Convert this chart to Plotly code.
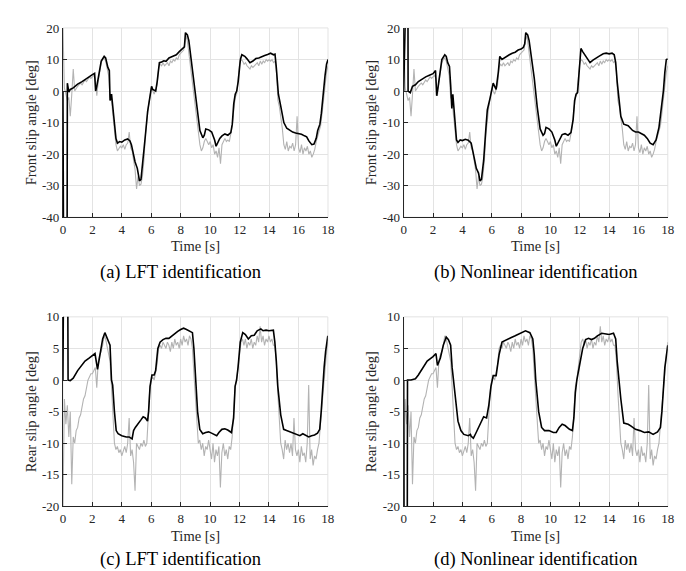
import plotly.graph_objects as go

# ---------------- data ----------------
# measured signals sampled every 0.1 s from 0 to 18 s
time_grid = [i / 10 for i in range(181)]

gray_front = [
    20, 1, -1, -3, -2, -8, -1, 7, 0, 1,
    1.5, 2, 2.5, 2, 3, 3.5, 3, 4, 4.5, 4,
    4.5, 5, 4, -1.5, 3, 7, 9, 10, 10.5, 9.5,
    7.5, 5, -2, -3, -8, -13, -17, -19, -18, -17.5,
    -18, -17, -18.5, -17, -16.5, -13, -18, -19, -22, -25,
    -31, -27, -30, -29.5, -27, -22, -14, -8, -5, -2,
    1, 0, -1, 0.5, 2, 7.5, 8.5, 8, 9, 8,
    8.5, 9, 8, 9.5, 9, 10, 9.5, 10.5, 10, 11.5,
    12, 12.5, 13, 16, 17.5, 14, 10, 6, 2, -3,
    -6, -10, -14, -17, -19, -18, -16, -15, -16, -17,
    -16, -18, -17, -20, -19, -21, -18, -23, -17, -16,
    -15, -16, -15.5, -16, -14, -11, -6, -2, -1, 3,
    9, 10, 9.5, 8.5, 9, 8, 7.5, 7, 8, 7.5,
    8, 8.5, 9, 8, 9.5, 8.5, 9.5, 9, 10, 9.5,
    10, 9.5, 10, 9, 9.5, 6, -3, -5, -8, -12,
    -17, -18.5, -16, -19, -17.5, -18, -16.5, -19, -17, -8,
    -18, -19.5, -17, -20, -18, -19, -17.5, -20, -19, -21,
    -20, -18.5, -16, -14, -12, -11, -7, -2, 3, 6,
    8,
]

gray_rear = [
    -20, -3, -7, -4, -9, -5, -16.5, -9, -10, -8,
    -7.5, -6, -5.5, -4, -3, -2.5, -1, 0, 0.5, 1,
    1, 1.5, 2, -1.2, 3, 4, 4.5, 5.5, 7, 6.5,
    5.5, 4.5, 3, -1, -6, -10, -11, -10.5, -11.5, -11,
    -12, -11, -10.5, -11.5, -10, -6, -12, -11, -13, -17.5,
    -10, -10.5, -11, -10, -10.5, -9.5, -10.5, -10, -5, -1.5,
    0, 0.5, 0, 1, 2.5, 5, 5.5, 5, 6, 5.5,
    5, 6, 5.5, 4.5, 6, 5, 6.5, 5.5, 6, 5,
    6.5, 5.5, 7, 6, 6.5, 5.5, 7, 6.5, 5, 1,
    -3, -8, -10, -9.5, -11, -10, -12, -10.5, -11, -9.5,
    -11, -12.5, -10, -13, -11, -12, -10.5, -17, -11.5, -10,
    -12, -11, -12.5, -10.5, -11, -9, -5, -1, 0, 2,
    3.5, 6, 6.5, 5.5, 6.5, 5, 6, 5.5, 6.5, 5,
    6, 5.5, 7, 6, 8.5, 6, 7, 5.5, 6.5, 6,
    7, 6, 6.5, 5.5, 5.5, 3, -2, -6, -10, -11,
    -12.5, -9.5, -11, -10, -11.5, -10, -12, -6, -11, -12,
    -11, -13, -10.5, -12, -11.5, -13, -10, -0.8, -12.5, -11,
    -13.5, -12, -12.5, -11, -10, -7, -4, -1, 2, 4,
    6,
]

# model outputs as (time [s], angle [deg]) pairs
lft_front = [
    (0, 0), (0.05, -60), (0.28, -60), (0.3, 2.5), (0.4, -0.3), (0.5, 0.5), (0.7, 1),
    (1.0, 2.2), (1.3, 3), (1.5, 3.7), (1.8, 4.6), (2.0, 5.2), (2.15, 5.6), (2.22, 0),
    (2.3, 1.5), (2.45, 5), (2.6, 9.5), (2.8, 11), (2.9, 10.5), (3.05, 7.5), (3.15, 6.5),
    (3.2, -3), (3.3, -1), (3.45, -8), (3.6, -15), (3.7, -16.5), (3.85, -16), (4.0, -16.2),
    (4.2, -15.5), (4.4, -15.2), (4.55, -15.8), (4.65, -17), (4.8, -21), (4.9, -22.5),
    (5.05, -24.5), (5.2, -28.5), (5.3, -28), (5.45, -22), (5.6, -14), (5.75, -6.5),
    (5.9, -2), (6.02, 1.5), (6.1, 0.5), (6.3, 0), (6.4, 3), (6.55, 9), (6.7, 9.2),
    (6.85, 9.6), (7.0, 9.4), (7.2, 10.5), (7.35, 10.8), (7.5, 11.2), (7.7, 11.5),
    (7.9, 12.5), (8.1, 13.2), (8.25, 14), (8.32, 18.5), (8.45, 17.8), (8.55, 16),
    (8.7, 10), (8.85, 4), (9.0, -1), (9.15, -7), (9.3, -12.5), (9.5, -14.8), (9.6, -14),
    (9.7, -12), (9.9, -12.3), (10.1, -13), (10.3, -15.5), (10.4, -17.5), (10.5, -16.5),
    (10.65, -15), (10.8, -14.2), (11.0, -13.6), (11.2, -14), (11.4, -13.2), (11.5, -10.5),
    (11.6, -4), (11.7, -1), (11.8, 0), (11.9, 3), (12.05, 10), (12.15, 11.5), (12.35, 11),
    (12.5, 10.2), (12.7, 9), (12.9, 9.5), (13.1, 10.3), (13.3, 10.5), (13.5, 11),
    (13.7, 11.3), (13.9, 11.6), (14.1, 12), (14.3, 11.5), (14.4, 11.7), (14.48, 8),
    (14.55, 2), (14.63, -1), (14.8, -5), (15.0, -10), (15.2, -11.8), (15.4, -12.5),
    (15.6, -13), (15.8, -13.3), (16.0, -13.5), (16.2, -13.7), (16.4, -14.2), (16.55, -14.5),
    (16.7, -15.8), (16.9, -17), (17.05, -16.8), (17.2, -15), (17.3, -12.5), (17.45, -10.5),
    (17.55, -7), (17.68, 0), (17.8, 5), (17.9, 8.5), (18.0, 10),
]

nonlin_front = [
    (0, 0), (0.05, 60), (0.28, 60), (0.3, 0), (0.45, -0.5), (0.6, 1.5), (0.8, 2),
    (1.0, 3), (1.25, 3.8), (1.5, 4.5), (1.75, 5), (2.0, 5.5), (2.17, 6.5), (2.25, -1.5),
    (2.35, 1.5), (2.45, 5), (2.6, 10), (2.8, 11.5), (2.9, 11), (3.0, 9), (3.12, 7.8),
    (3.2, 2), (3.28, -5.5), (3.35, -1), (3.5, -10), (3.6, -15.5), (3.7, -16.3),
    (3.85, -15.5), (4.0, -15.7), (4.2, -15.3), (4.4, -15.6), (4.6, -16.5), (4.8, -21),
    (4.95, -24.5), (5.1, -26), (5.2, -28.5), (5.3, -28), (5.45, -22), (5.6, -12),
    (5.7, -6), (5.9, -2), (6.05, 1), (6.1, 2.5), (6.2, 1.5), (6.3, 0.5), (6.45, 6),
    (6.55, 11), (6.7, 10), (6.85, 10.5), (7.0, 11), (7.2, 11.5), (7.4, 12), (7.6, 12.3),
    (7.8, 13), (8.0, 13.3), (8.15, 13.8), (8.25, 15), (8.32, 18.5), (8.45, 17.8),
    (8.55, 16), (8.7, 11), (8.9, 4), (9.1, -5), (9.3, -12), (9.5, -14), (9.6, -13.5),
    (9.7, -11.5), (9.9, -12), (10.1, -13), (10.3, -15.5), (10.4, -17.5), (10.5, -16.5),
    (10.65, -15), (10.8, -13.8), (11.0, -13.5), (11.2, -14), (11.4, -13.2), (11.55, -9),
    (11.65, -3), (11.75, -1), (11.85, -0.5), (12.0, 10), (12.08, 13.5), (12.2, 12.5),
    (12.4, 11), (12.55, 10), (12.7, 9), (12.9, 9.8), (13.1, 10.5), (13.3, 11),
    (13.6, 11.8), (13.8, 12), (14.0, 11.8), (14.2, 12), (14.35, 11.5), (14.45, 9),
    (14.55, 3), (14.65, -1), (14.8, -8), (15.0, -10.5), (15.3, -11), (15.6, -12.5),
    (15.8, -13), (16.0, -13), (16.2, -13.5), (16.4, -14), (16.6, -15), (16.8, -16.5),
    (17.0, -17), (17.2, -15.5), (17.4, -11.5), (17.55, -6), (17.7, 0), (17.8, 6),
    (17.9, 10), (18.0, 10.2),
]

lft_rear = [
    (0, 0), (0.05, 20), (0.32, 20), (0.35, 0), (0.5, -0.1), (0.7, 0.3), (1.0, 1.5),
    (1.3, 2.5), (1.5, 3), (1.8, 3.5), (2.0, 3.8), (2.18, 4.2), (2.35, 1.7), (2.5, 3.5),
    (2.7, 6.5), (2.85, 7.5), (3.0, 6.5), (3.2, 5.5), (3.3, 0), (3.38, -0.8), (3.5, -5),
    (3.62, -8), (3.75, -8.5), (4.0, -8.8), (4.3, -9), (4.5, -9), (4.7, -9.3), (4.8, -8),
    (4.92, -7.5), (5.1, -7), (5.3, -6.3), (5.45, -5.8), (5.6, -6), (5.75, -6.5),
    (5.82, -5), (5.92, -1), (6.05, 0.8), (6.2, 0.8), (6.3, 1.5), (6.45, 5), (6.6, 6),
    (6.8, 6.4), (7.0, 6.6), (7.2, 6.6), (7.4, 7), (7.6, 7.3), (7.8, 7.7), (8.0, 8),
    (8.2, 8.2), (8.4, 8), (8.6, 7.8), (8.8, 7.5), (8.9, 5), (9.0, 0), (9.15, -5),
    (9.3, -7.8), (9.5, -8.5), (9.7, -8.3), (9.9, -8.2), (10.1, -8.4), (10.3, -8.7),
    (10.45, -8.8), (10.6, -8.3), (10.8, -7.8), (11.0, -7.7), (11.2, -7.9), (11.45, -8.3),
    (11.6, -6), (11.7, -1), (11.8, 0), (11.9, 2), (12.05, 6), (12.22, 7.5), (12.4, 7.2),
    (12.6, 6.5), (12.8, 7), (13.0, 7.1), (13.2, 7.8), (13.45, 8.1), (13.6, 7.8),
    (13.8, 7.9), (14.0, 7.8), (14.3, 7.9), (14.4, 6), (14.5, 3), (14.6, -1), (14.8, -5.5),
    (15.0, -7.8), (15.2, -8), (15.5, -8.3), (15.8, -8.5), (16.1, -8.8), (16.3, -8.5),
    (16.5, -8.7), (16.7, -9), (16.9, -8.8), (17.1, -8.7), (17.3, -8.4), (17.45, -7.8),
    (17.55, -5), (17.65, -1), (17.75, 2), (17.85, 4.5), (17.95, 6.3), (18.0, 7),
]

nonlin_rear = [
    (0, 0), (0.03, -30), (0.24, -30), (0.26, 0), (0.5, 0), (0.8, 0.2), (1.0, 0.8),
    (1.3, 2), (1.6, 3), (2.0, 3.7), (2.2, 4.2), (2.3, 2.3), (2.5, 3.5), (2.7, 5.5),
    (2.9, 6.8), (3.05, 6.4), (3.2, 5.5), (3.3, 2), (3.45, -1), (3.6, -4), (3.7, -6.5),
    (3.9, -8), (4.1, -8.6), (4.4, -8.8), (4.55, -8.6), (4.6, -8.9), (4.75, -9.2),
    (4.9, -8.5), (5.05, -7.7), (5.25, -6.8), (5.45, -5.8), (5.65, -6), (5.8, -4),
    (5.95, -1), (6.1, 0.7), (6.3, 0.7), (6.5, 4), (6.7, 6), (7.0, 6.4), (7.3, 6.7),
    (7.6, 7), (8.0, 7.5), (8.3, 7.8), (8.6, 7.5), (8.8, 6.5), (8.9, 4), (9.0, 0),
    (9.2, -5), (9.4, -7.5), (9.6, -8), (9.9, -8), (10.2, -8.3), (10.4, -8.3), (10.6, -7.5),
    (10.8, -7), (11.0, -7.2), (11.3, -7.8), (11.5, -8), (11.6, -6), (11.7, -2), (11.8, 0),
    (12.0, 2.5), (12.2, 5), (12.4, 6.4), (12.6, 6.6), (12.8, 6.4), (13.0, 6.6), (13.2, 7),
    (13.5, 7.4), (13.8, 7.3), (14.0, 7.2), (14.3, 7.4), (14.45, 6.5), (14.55, 3),
    (14.65, 0), (14.8, -3), (15.0, -6.8), (15.3, -7), (15.5, -7.3), (15.8, -7.8),
    (16.1, -8), (16.4, -8.3), (16.7, -8.2), (17.0, -8.6), (17.3, -8.2), (17.5, -7.5),
    (17.6, -5), (17.7, -1), (17.8, 2), (18.0, 5.5),
]

x_ticks = [0, 2, 4, 6, 8, 10, 12, 14, 16, 18]
front_ticks = [-40, -30, -20, -10, 0, 10, 20]
front_tick_text = ["-40", "-30", "-20", "-10", "0", "10", "20"]
rear_ticks = [-20, -15, -10, -5, 0, 5, 10]
rear_tick_text = ["-20", "-15", "-10", "-5", "0", "5", "10"]

captions = ["(a) LFT identification", "(b) Nonlinear identification",
            "(c) LFT identification", "(d) Nonlinear identification"]
y_titles = ["Front slip angle [deg]", "Front slip angle [deg]",
            "Rear slip angle [deg]", "Rear slip angle [deg]"]
x_title = "Time [s]"

# ---------------- figure ----------------
W, H = 686, 571
SERIF = "'Liberation Serif', 'Times New Roman', Times, 'DejaVu Serif', serif"
AX = "#262626"
GRID = "#e3e3e3"
GRAY = "#b3b3b3"

# pixel boxes of the four plot areas (left, right, top, bottom)
boxes = [
    (52.7, 321.7, 13.3, 207.7),
    (398.5, 666.5, 13.3, 207.7),
    (52.7, 321.5, 310.0, 504.7),
    (398.5, 666.5, 310.0, 504.7),
]
caption_pos = [(172, 264), (532, 264), (172, 559), (532, 559)]
ytitle_x = [20, 365, 20, 365]

measured = [gray_front, gray_front, gray_rear, gray_rear]
models = [lft_front, nonlin_front, lft_rear, nonlin_rear]
yranges = [[-40, 20], [-40, 20], [-20, 10], [-20, 10]]
yticks = [(front_ticks, front_tick_text), (front_ticks, front_tick_text),
          (rear_ticks, rear_tick_text), (rear_ticks, rear_tick_text)]

fig = go.Figure()
annotations = []
shapes = []
for i in range(4):
    n = "" if i == 0 else str(i + 1)
    xa, ya = "x" + n, "y" + n
    l, r, t, b = boxes[i]
    fig.add_trace(go.Scatter(x=time_grid, y=measured[i], mode="lines",
                             line=dict(color=GRAY, width=1.1),
                             xaxis=xa, yaxis=ya, showlegend=False, hoverinfo="skip"))
    mt = [p[0] for p in models[i]]
    mv = [p[1] for p in models[i]]
    fig.add_trace(go.Scatter(x=mt, y=mv, mode="lines",
                             line=dict(color="black", width=1.6),
                             xaxis=xa, yaxis=ya, showlegend=False, hoverinfo="skip"))
    common = dict(showline=True, linecolor=AX, linewidth=1, mirror=False,
                  showgrid=True, gridcolor=GRID, gridwidth=1, zeroline=False,
                  ticks="inside", ticklen=4, tickcolor=AX, tickwidth=1,
                  tickfont=dict(family=SERIF, size=13, color=AX), fixedrange=True)
    fig.layout["xaxis" + n] = dict(common, domain=[l / W, r / W], range=[0, 18],
                                   tickvals=x_ticks, anchor=ya)
    fig.layout["yaxis" + n] = dict(common, domain=[1 - b / H, 1 - t / H], range=yranges[i],
                                   tickvals=yticks[i][0], ticktext=yticks[i][1], anchor=xa)
    shapes.append(dict(type="rect", xref=xa + " domain", yref=ya + " domain",
                       x0=0, x1=1, y0=0, y1=1, line=dict(color=GRID, width=1),
                       layer="below"))
    # axis titles and captions
    annotations.append(dict(text=x_title, x=(l + r) / 2 / W, y=1 - (b + 30) / H,
                            xref="paper", yref="paper", showarrow=False,
                            font=dict(family=SERIF, size=14.5, color=AX),
                            xanchor="center", yanchor="middle"))
    annotations.append(dict(text=y_titles[i], x=ytitle_x[i] / W, y=1 - (t + b) / 2 / H,
                            xref="paper", yref="paper", showarrow=False, textangle=-90,
                            font=dict(family=SERIF, size=14.5, color=AX),
                            xanchor="center", yanchor="middle"))
    cx, cy = caption_pos[i]
    annotations.append(dict(text=captions[i], x=cx / W, y=1 - cy / H,
                            xref="paper", yref="paper", showarrow=False,
                            font=dict(family=SERIF, size=18.5, color="black"),
                            xanchor="center", yanchor="middle"))

fig.update_layout(width=W, height=H, margin=dict(l=0, r=0, t=0, b=0),
                  paper_bgcolor="white", plot_bgcolor="white",
                  font=dict(family=SERIF),
                  annotations=annotations, shapes=shapes)

fig.write_html("out.html", config={"displayModeBar": False})
